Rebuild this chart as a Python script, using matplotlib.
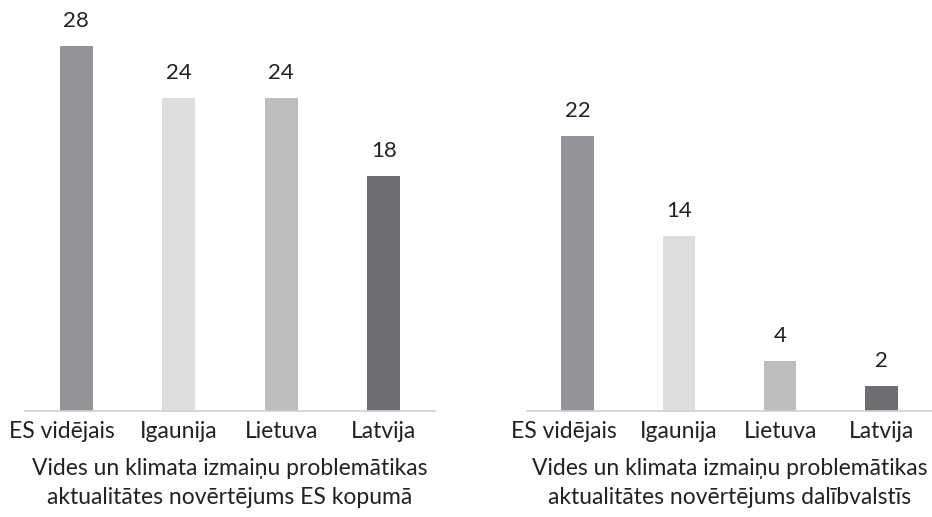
import matplotlib
matplotlib.use("Agg")
import matplotlib.pyplot as plt
from matplotlib.transforms import offset_copy

categories = ["ES vidējais", "Igaunija", "Lietuva", "Latvija"]
values_left = [28, 24, 24, 18]
values_right = [22, 14, 4, 2]
titles = [
    "Vides un klimata izmaiņu problemātikas\naktualitātes novērtējums ES kopumā",
    "Vides un klimata izmaiņu problemātikas\naktualitātes novērtējums dalībvalstīs",
]
colors = ["#939498", "#dcdddf", "#bcbdbf", "#6d6e71"]

plt.rcParams['font.family'] = ['Lato', 'DejaVu Sans']

W, H = 932, 517
fig = plt.figure(figsize=(W / 100, H / 100), dpi=100)

def add_ax(x0, x1, y0, y1):
    return fig.add_axes([x0 / W, 1 - y1 / H, (x1 - x0) / W, (y1 - y0) / H])

ax_l = add_ax(25, 435, 20, 411)
ax_r = add_ax(527, 932, 20, 411)

for ax, vals, title, ymax in [(ax_l, values_left, titles[0], 30.0),
                              (ax_r, values_right, titles[1], 31.3)]:
    x = range(len(categories))
    bars = ax.bar(x, vals, width=0.32, color=colors)
    ax.set_xlim(-0.5, len(categories) - 0.5)
    ax.set_ylim(0, ymax)
    for b, v in zip(bars, vals):
        ax.annotate(str(v), (b.get_x() + b.get_width() / 2, v),
                    xytext=(0, 11), textcoords="offset points",
                    ha="center", va="bottom", fontsize=16, color="#222222")
    ax.set_xticks(list(x))
    ax.set_xticklabels(categories, fontsize=16.5, color="#222222")
    ax.tick_params(axis="x", length=0, pad=7)
    lbl0 = ax.get_xticklabels()[0]
    lbl0.set_transform(offset_copy(lbl0.get_transform(), fig=fig, x=-14, y=0, units="dots"))
    ax.set_yticks([])
    for s in ["top", "left", "right"]:
        ax.spines[s].set_visible(False)
    ax.spines["bottom"].set_color("#d0d0d0")
    ax.spines["bottom"].set_linewidth(1.2)
    ax.set_xlabel(title, fontsize=16.5, color="#222222", labelpad=12, linespacing=1.45)

fig.savefig("out.png", dpi=100, facecolor="white")
